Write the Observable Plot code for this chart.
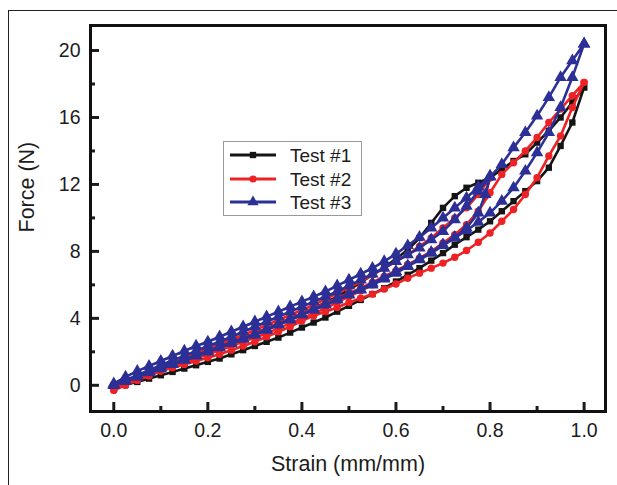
<!DOCTYPE html>
<html><head><meta charset="utf-8">
<script src="https://cdn.jsdelivr.net/npm/d3@7"></script>
<script src="https://cdn.jsdelivr.net/npm/@observablehq/plot@0.6"></script>
<style>
body{margin:0;background:#fff;width:617px;height:485px;overflow:hidden;position:relative;font-family:"Liberation Sans",Arial,sans-serif;}
#outer{position:absolute;left:8px;top:10px;width:700px;height:600px;border:1.5px solid #222;}
#chart{position:absolute;left:0;top:0;}
#legend{position:absolute;left:223px;top:141px;width:139px;height:75px;border:1px solid #999;background:#fff;box-sizing:border-box;}
</style></head><body>
<div id="outer"></div>
<div id="chart"></div>
<div id="legend"></div>
<script>
// ---- data ----
const seriesNames = ["Test #1", "Test #2", "Test #3"];
const xMajor = [0, 0.2, 0.4, 0.6, 0.8, 1.0];
const xMinor = [0.1, 0.3, 0.5, 0.7, 0.9];
const yMajor = [0, 4, 8, 12, 16, 20];
const yMinor = [2, 6, 10, 14, 18];

// strain grid (ascending) used by loading/unloading branches
const strainGrid = [0, 0.025, 0.05, 0.075, 0.1, 0.125, 0.15, 0.175, 0.2, 0.225, 0.25, 0.275, 0.3, 0.325, 0.35, 0.375, 0.4, 0.425, 0.45, 0.475, 0.5, 0.525, 0.55, 0.575, 0.6, 0.625, 0.65, 0.675, 0.7, 0.725, 0.75, 0.775, 0.8, 0.825, 0.85, 0.875, 0.9, 0.925, 0.95, 0.975, 1.0];
// strain points of the first unloading (from 0.8, descending)
const dropStrain = [0.8, 0.79, 0.775, 0.75, 0.725, 0.7, 0.675, 0.65, 0.625, 0.6, 0.575, 0.55, 0.525, 0.5, 0.475, 0.45, 0.425, 0.4, 0.375, 0.35, 0.325, 0.3, 0.275, 0.25, 0.225, 0.2, 0.175, 0.15, 0.125, 0.1, 0.075, 0.05, 0.025, 0];

// Test #1 (black)
const t1Load = [0.0, 0.2, 0.45, 0.7, 0.95, 1.2, 1.45, 1.7, 1.95, 2.2, 2.5, 2.8, 3.1, 3.4, 3.7, 4.0, 4.3, 4.6, 4.95, 5.3, 5.7, 6.15, 6.6, 7.05, 7.55, 8.1, 8.8, 9.7, 10.6, 11.3, 11.8, 12.1, 12.4, 12.9, 13.4, 13.8, 14.5, 15.2, 16.0, 16.9, 17.8];
const t1Unload = [-0.1, 0.05, 0.2, 0.4, 0.6, 0.8, 1.0, 1.2, 1.4, 1.6, 1.85, 2.1, 2.35, 2.6, 2.85, 3.15, 3.45, 3.75, 4.05, 4.4, 4.75, 5.1, 5.45, 5.8, 6.2, 6.6, 7.0, 7.45, 7.9, 8.4, 8.85, 9.3, 9.8, 10.4, 11.0, 11.6, 12.2, 13.0, 14.3, 15.7, 17.8];

// Test #2 (red)
const t2Load1 = [-0.1, 0.15, 0.4, 0.7, 1.0, 1.3, 1.6, 1.9, 2.2, 2.45, 2.75, 3.0, 3.3, 3.6, 3.9, 4.2, 4.5, 4.8, 5.15, 5.5, 5.85, 6.2, 6.6, 7.0, 7.4, 7.8, 8.3, 8.8, 9.4, 10.0, 10.6, 11.4, 12.4];
const t2Drop = [12.4, 11.3, 10.3, 9.5, 8.9, 8.45, 8.0, 7.6, 7.2, 6.85, 6.5, 6.15, 5.8, 5.5, 5.2, 4.9, 4.6, 4.3, 4.0, 3.7, 3.4, 3.1, 2.85, 2.6, 2.35, 2.1, 1.85, 1.6, 1.35, 1.1, 0.8, 0.5, 0.2, -0.1];
const t2Load2 = [-0.3, 0.0, 0.3, 0.55, 0.85, 1.1, 1.35, 1.6, 1.85, 2.1, 2.35, 2.6, 2.85, 3.1, 3.4, 3.7, 4.0, 4.3, 4.6, 4.95, 5.3, 5.65, 6.0, 6.4, 6.8, 7.2, 7.6, 8.0, 8.5, 9.0, 9.6, 10.4, 11.5, 12.6, 13.3, 14.0, 14.8, 15.7, 16.5, 17.3, 18.1];
const t2Unload = [-0.3, 0.0, 0.3, 0.6, 0.85, 1.05, 1.25, 1.45, 1.65, 1.85, 2.1, 2.35, 2.6, 2.9, 3.2, 3.5, 3.85, 4.15, 4.4, 4.65, 4.95, 5.2, 5.45, 5.75, 6.05, 6.4, 6.7, 7.0, 7.3, 7.65, 8.05, 8.55, 9.1, 9.8, 10.5, 11.4, 12.4, 13.7, 14.9, 16.6, 18.1];

// Test #3 (blue)
const t3Load1 = [0.1, 0.5, 0.85, 1.15, 1.45, 1.75, 2.05, 2.35, 2.6, 2.9, 3.2, 3.5, 3.8, 4.1, 4.4, 4.7, 5.0, 5.3, 5.6, 5.95, 6.3, 6.65, 7.0, 7.4, 7.85, 8.35, 8.85, 9.4, 10.0, 10.6, 11.2, 11.85, 12.5];
const t3Drop = [12.5, 11.4, 10.3, 9.4, 8.85, 8.4, 7.95, 7.55, 7.15, 6.8, 6.45, 6.1, 5.75, 5.45, 5.15, 4.85, 4.55, 4.25, 3.95, 3.65, 3.35, 3.05, 2.8, 2.55, 2.3, 2.05, 1.8, 1.55, 1.3, 1.05, 0.8, 0.5, 0.25, 0.0];
const t3Load2 = [0.0, 0.3, 0.6, 0.9, 1.2, 1.5, 1.75, 2.05, 2.35, 2.6, 2.9, 3.2, 3.5, 3.8, 4.1, 4.4, 4.7, 5.0, 5.3, 5.6, 5.95, 6.3, 6.65, 7.0, 7.4, 7.8, 8.2, 8.7, 9.2, 9.9, 10.7, 11.6, 12.45, 13.2, 14.2, 15.1, 16.1, 17.2, 18.4, 19.4, 20.4];
const t3Unload = [0.0, 0.25, 0.5, 0.75, 1.0, 1.25, 1.5, 1.75, 2.0, 2.25, 2.5, 2.75, 3.0, 3.3, 3.6, 3.9, 4.2, 4.5, 4.8, 5.1, 5.4, 5.7, 6.0, 6.35, 6.7, 7.1, 7.5, 7.9, 8.35, 8.8, 9.25, 9.75, 10.3, 11.0, 11.8, 12.8, 13.9, 15.1, 16.6, 18.4, 20.4];

const colors = ["#151515", "#ee2224", "#2b2f96"];
const symbols = ["square", "circle", "triangle"];

// ---- build rows: one continuous path per test ----
function loadSeg(f) { return f.map((v, i) => ({s: strainGrid[i], f: v})); }
function unloadSeg(f) { return f.map((v, i) => ({s: strainGrid[i], f: v})).reverse(); }
function dropSeg(f) { return f.map((v, i) => ({s: dropStrain[i], f: v})); }
function path(segs) { return segs.flat(); }

const tests = [
  path([loadSeg(t1Load), unloadSeg(t1Unload)]),
  path([loadSeg(t2Load1), dropSeg(t2Drop), loadSeg(t2Load2), unloadSeg(t2Unload)]),
  path([loadSeg(t3Load1), dropSeg(t3Drop), loadSeg(t3Load2), unloadSeg(t3Unload)])
];

const dataMarks = [];
const radii = [3.6, 3.7, 4.6];
tests.forEach((rows, k) => {
  dataMarks.push(Plot.line(rows, {x: "s", y: "f", stroke: colors[k], strokeWidth: 2.6}));
  dataMarks.push(Plot.dot(rows, {x: "s", y: "f", symbol: () => symbols[k], r: radii[k], fill: colors[k], stroke: "none"}));
});

const font = "Liberation Sans, Arial, sans-serif";
const chart = Plot.plot({
  width: 617, height: 485,
  marginLeft: 90, marginRight: 12, marginTop: 25, marginBottom: 74,
  style: {background: "transparent", fontFamily: font, color: "#1c1c1c"},
  x: {domain: [-0.0495, 1.0455]},
  y: {domain: [-1.565, 21.495]},
  symbol: {domain: symbols, range: symbols},
  marks: [
    ...dataMarks,
    Plot.axisX(xMinor, {tickSize: -5, strokeWidth: 3, tickFormat: () => "", label: null}),
    Plot.axisX(xMajor, {tickSize: -9, strokeWidth: 3, tickFormat: () => "", label: null}),
    Plot.axisX(xMajor, {tickSize: 0, tickPadding: 12, tickFormat: d3.format(".1f"), fontSize: 19.5, label: null}),
    Plot.axisY(yMinor, {tickSize: -5, strokeWidth: 3, tickFormat: () => "", label: null}),
    Plot.axisY(yMajor, {tickSize: -9, strokeWidth: 3, tickFormat: () => "", label: null}),
    Plot.axisY(yMajor, {tickSize: 0, tickPadding: 10, tickFormat: d3.format("d"), fontSize: 19.5, label: null}),
    Plot.frame({stroke: "#111", strokeWidth: 3}),
    Plot.text(["Strain (mm/mm)"], {text: d => d, frameAnchor: "bottom", dy: 59, fontSize: 21.5}),
    Plot.text(["Force (N)"], {text: d => d, frameAnchor: "left", dx: -63, dy: 14, rotate: -90, fontSize: 21.5})
  ]
});
document.getElementById("chart").appendChild(chart);

// ---- legend ----
const lg = d3.select("#legend").append("svg").attr("width", 137).attr("height", 73);
const rowY = [13, 37, 60];
seriesNames.forEach((name, k) => {
  const g = lg.append("g").attr("transform", `translate(0,${rowY[k]})`);
  g.append("line").attr("x1", 6).attr("x2", 52).attr("y1", 0).attr("y2", 0).attr("stroke", colors[k]).attr("stroke-width", 3);
  g.append("path").attr("transform", "translate(29,0)").attr("d", d3.symbol(k === 0 ? d3.symbolSquare : k === 1 ? d3.symbolCircle : d3.symbolTriangle, k === 2 ? 55 : 40)()).attr("fill", colors[k]);
  g.append("text").attr("x", 66).attr("y", 0).attr("dy", "0.35em").attr("font-size", 19).attr("font-family", font).attr("fill", "#1c1c1c").text(name);
});
</script></body></html>
